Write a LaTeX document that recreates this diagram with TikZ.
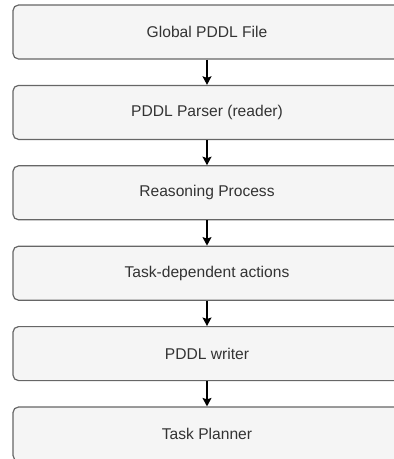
\documentclass[tikz,border=0pt]{standalone}
\usepackage{fontspec}
\setmainfont{Liberation Sans}
\usetikzlibrary{arrows.meta}
\definecolor{boxfill}{HTML}{F5F5F5}
\definecolor{boxline}{HTML}{666666}
\definecolor{boxtext}{HTML}{333333}
\tikzset{
  stepbox/.style={draw=boxline, fill=boxfill, line width=1.2pt, rounded corners=5.5pt,
    minimum width=388pt, minimum height=54pt, inner sep=0pt, text=boxtext,
    font=\fontsize{15.6pt}{18pt}\selectfont},
  flow/.style={draw=black, line width=1.3pt, -{Stealth[length=8.5pt, width=9pt, inset=1.5pt]}}
}
\begin{document}
\begin{tikzpicture}[x=1pt, y=-1pt]
\path[use as bounding box, clip] (0,0) rectangle (394,459);
\node[stepbox] (b1) at (207,32) {Global PDDL File};
\node[stepbox] (b2) at (207,112.4) {PDDL Parser (reader)};
\node[stepbox] (b3) at (207,192.8) {Reasoning Process};
\node[stepbox] (b4) at (207,273.2) {Task-dependent actions};
\node[stepbox] (b5) at (207,353.6) {PDDL writer};
\node[stepbox] (b6) at (207,434) {Task Planner};
\draw[flow] (b1) -- (b2);
\draw[flow] (b2) -- (b3);
\draw[flow] (b3) -- (b4);
\draw[flow] (b4) -- (b5);
\draw[flow] (b5) -- (b6);
\end{tikzpicture}
\end{document}
